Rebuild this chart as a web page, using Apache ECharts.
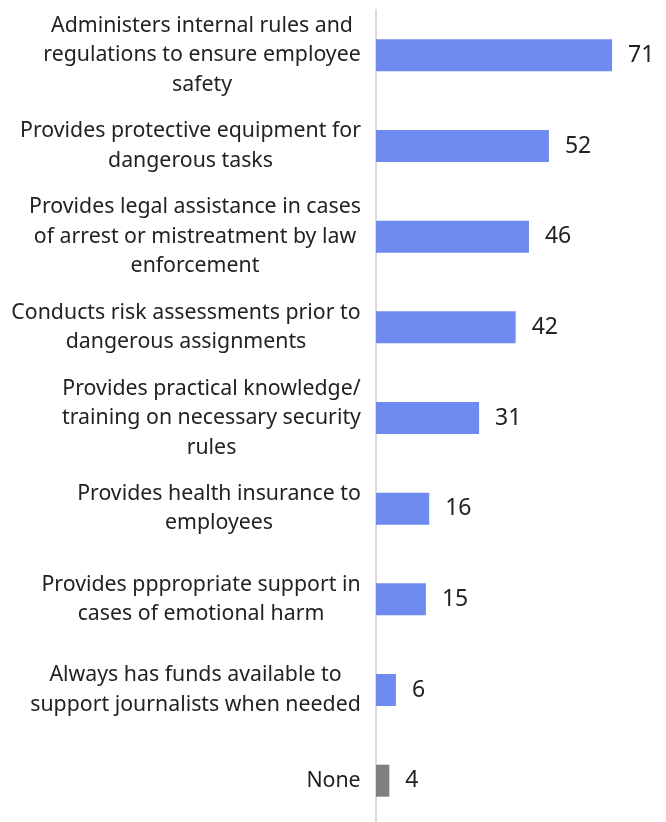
<!DOCTYPE html>
<html>
<head>
<meta charset="utf-8">
<style>
  html, body { margin: 0; padding: 0; background: #ffffff; }
  #chart { width: 666px; height: 822px; }
</style>
<script src="https://cdn.jsdelivr.net/npm/echarts@6/dist/echarts.min.js"></script>
</head>
<body>
<div id="chart"></div>
<script>
// Safety measures provided by employers (share of respondents)
const categories = [
  'Administers internal rules and\nregulations to ensure employee\nsafety',
  'Provides protective equipment for\ndangerous tasks',
  'Provides legal assistance in cases\nof arrest or mistreatment by law\nenforcement',
  'Conducts risk assessments prior to\ndangerous assignments',
  'Provides practical knowledge/\ntraining on necessary security\nrules',
  'Provides health insurance to\nemployees',
  'Provides pppropriate support in\ncases of emotional harm',
  'Always has funds available to\nsupport journalists when needed',
  'None'
];
const values = [71, 52, 46, 42, 31, 16, 15, 6, 4];
const highlightCategory = 'None';

const FONT = '"Noto Sans", sans-serif';
const LABEL_SIZE = 21.3;
const LABEL_LINE = 29.5;
const VALUE_SIZE = 23;
const TEXT_COLOR = '#222222';
const BAR_COLOR = '#6f8bef';
const NONE_COLOR = '#808080';

// Measure each label block so its lines can be centred within it
const ctx = document.createElement('canvas').getContext('2d');
ctx.font = LABEL_SIZE + 'px ' + FONT;
const rich = {};
categories.forEach((c, i) => {
  const w = Math.max(...c.split('\n').map(l => ctx.measureText(l).width));
  rich['c' + i] = {
    width: Math.ceil(w),
    align: 'center',
    fontSize: LABEL_SIZE,
    lineHeight: LABEL_LINE,
    fontFamily: FONT,
    color: TEXT_COLOR
  };
});

const chart = echarts.init(document.getElementById('chart'), null, { renderer: 'canvas' });
chart.setOption({
  animation: false,
  // the plot runs past the bottom edge, so the grid must not be squeezed into the canvas
  grid: { left: 376, top: 10, width: 266, height: 816, containLabel: false, outerBoundsMode: 'none' },
  xAxis: {
    type: 'value',
    min: 0,
    max: 80,
    show: false
  },
  yAxis: {
    type: 'category',
    inverse: true,
    data: categories,
    axisLine: { show: true, lineStyle: { color: '#d9d9d9', width: 2 } },
    axisTick: { show: false },
    splitLine: { show: false },
    axisLabel: {
      margin: 15,
      align: 'right',
      formatter: (value, index) =>
        value.split('\n').map(l => '{c' + index + '|' + l + '}').join('\n'),
      rich: rich
    }
  },
  series: [{
    type: 'bar',
    barWidth: 32,
    data: values.map((v, i) => ({
      value: v,
      itemStyle: { color: categories[i] === highlightCategory ? NONE_COLOR : BAR_COLOR }
    })),
    label: {
      show: true,
      position: 'right',
      distance: 16,
      fontSize: VALUE_SIZE,
      fontFamily: FONT,
      color: TEXT_COLOR
    }
  }]
});
</script>
</body>
</html>
